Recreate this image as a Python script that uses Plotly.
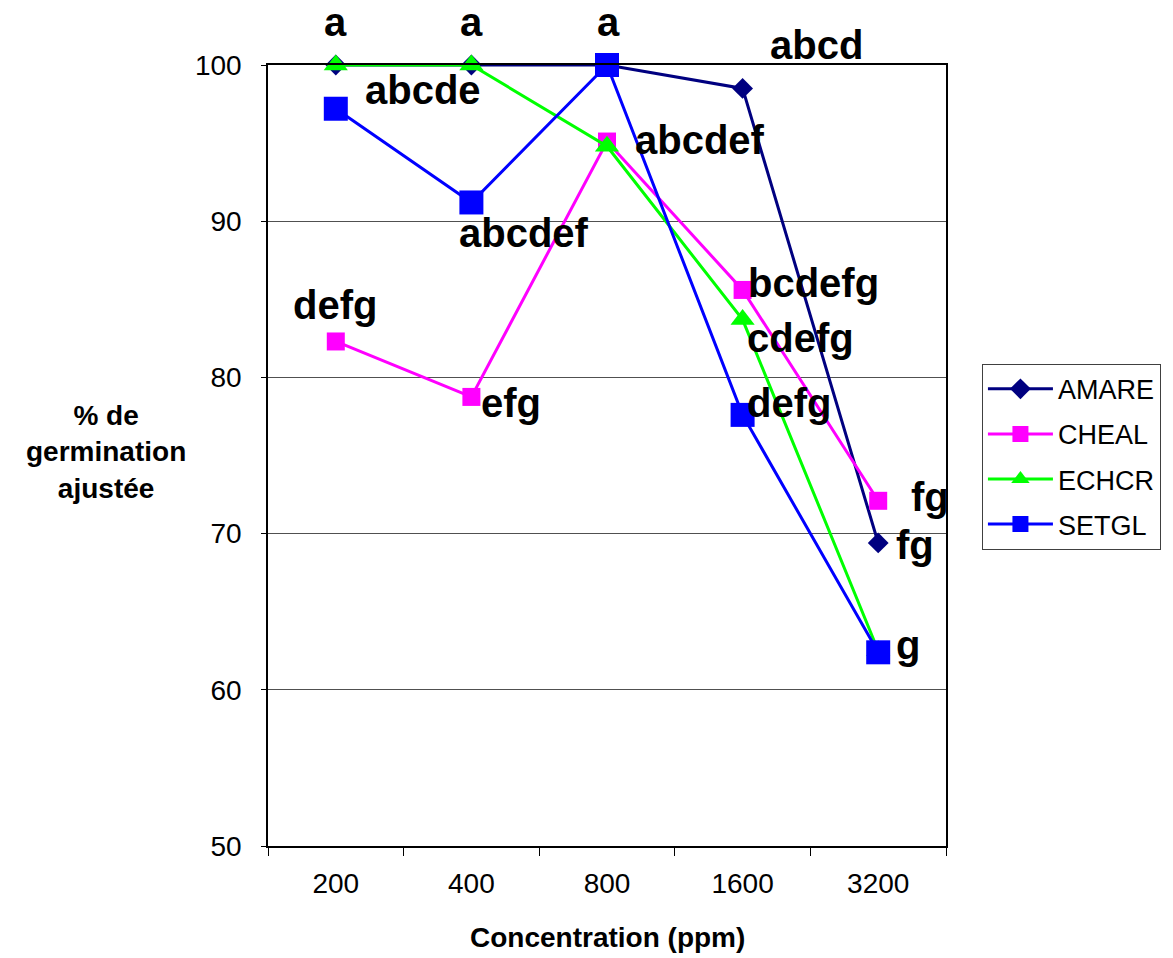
import plotly.graph_objects as go

# Germination data by concentration
categories = ["200", "400", "800", "1600", "3200"]
amare = [100, 100, 100, 98.5, 69.4]
cheal = [82.3, 78.75, 95.1, 85.6, 72.1]
echcr = [100, 100, 94.8, 83.7, 62.5]
setgl = [97.2, 91.2, 100, 77.6, 62.4]

# Statistical group letters per series (empty = no label)
amare_letters = ["a", "a", "a", "abcd", "fg"]
cheal_letters = ["defg", "efg", "abcdef", "bcdefg", "fg"]
echcr_letters = ["", "", "", "cdefg", ""]
setgl_letters = ["abcde", "abcdef", "", "defg", "g"]

FONT = "Liberation Sans, Arial, sans-serif"

series = [
    ("AMARE", amare, amare_letters, "#000080", "diamond", 16),
    ("CHEAL", cheal, cheal_letters, "#FF00FF", "square", 18),
    ("ECHCR", echcr, echcr_letters, "#00FF00", "triangle-up", 21),
    ("SETGL", setgl, setgl_letters, "#0000FF", "square", 24),
]

# pixel offsets of each letter label from its marker
label_offsets = {
    ("AMARE", 0): (0, 43), ("AMARE", 1): (0, 43), ("AMARE", 2): (1, 43),
    ("AMARE", 3): (74, 43), ("AMARE", 4): (37, -2),
    ("CHEAL", 0): (-1, 36), ("CHEAL", 1): (40, -6), ("CHEAL", 2): (93, 2),
    ("CHEAL", 3): (71, 7), ("CHEAL", 4): (52, 4),
    ("ECHCR", 3): (58, -18),
    ("SETGL", 0): (87, 19), ("SETGL", 1): (53, -31), ("SETGL", 3): (46, 12),
    ("SETGL", 4): (30, 7),
}

fig = go.Figure()
annotations = []
for name, vals, letters, color, symbol, size in series:
    fig.add_trace(go.Scatter(
        x=categories, y=vals, name=name, mode="lines+markers",
        line=dict(color=color, width=3),
        marker=dict(symbol=symbol, size=size, color=color, line=dict(width=0)),
        legendgroup=name, cliponaxis=False,
    ))
    for i, txt in enumerate(letters):
        if not txt:
            continue
        dx, dy = label_offsets[(name, i)]
        # category axes take the serial index of the category
        annotations.append(dict(
            x=i, y=vals[i], xref="x", yref="y",
            text="<b>" + txt + "</b>", showarrow=False,
            xanchor="center", yanchor="middle",
            xshift=dx, yshift=dy,
            font=dict(family=FONT, size=40, color="black"),
        ))

# axis titles
annotations.append(dict(
    x=0.5, y=-0.117, xref="paper", yref="paper",
    xanchor="center", yanchor="middle",
    text="<b>Concentration (ppm)</b>", showarrow=False,
    font=dict(family=FONT, size=28, color="black"),
))
annotations.append(dict(
    x=-0.239, y=0.504, xref="paper", yref="paper",
    xanchor="center", yanchor="middle",
    text="<b>% de<br>germination<br>ajustée</b>", showarrow=False,
    align="center",
    font=dict(family=FONT, size=28, color="black"),
))

fig.update_layout(
    width=1173, height=958,
    margin=dict(l=268, r=225, t=65, b=112),
    paper_bgcolor="white", plot_bgcolor="white",
    font=dict(family=FONT, size=28, color="black"),
    showlegend=True,
    legend=dict(
        x=1.053, y=0.6175, xanchor="left", yanchor="top",
        bordercolor="#404040", borderwidth=1,
        font=dict(family=FONT, size=27, color="black"),
        traceorder="grouped", tracegroupgap=7,
        itemwidth=65,
    ),
    annotations=annotations,
)

fig.update_xaxes(
    type="category", range=[-0.5, 4.5],
    showgrid=False, showline=True, linecolor="black", linewidth=1.5, mirror=True,
    ticks="outside", tickson="boundaries", ticklen=8, tickcolor="black",
    tickfont=dict(family=FONT, size=28, color="black"),
    ticklabelstandoff=12,
)
fig.update_yaxes(
    range=[50, 100], dtick=10, tick0=50,
    showgrid=True, gridcolor="#505050", gridwidth=1,
    showline=True, linecolor="black", linewidth=1.5, mirror=True,
    ticks="outside", ticklen=5, tickcolor="black",
    tickfont=dict(family=FONT, size=28, color="black"),
    ticklabelstandoff=14, zeroline=False,
)

fig.write_html("out.html")
